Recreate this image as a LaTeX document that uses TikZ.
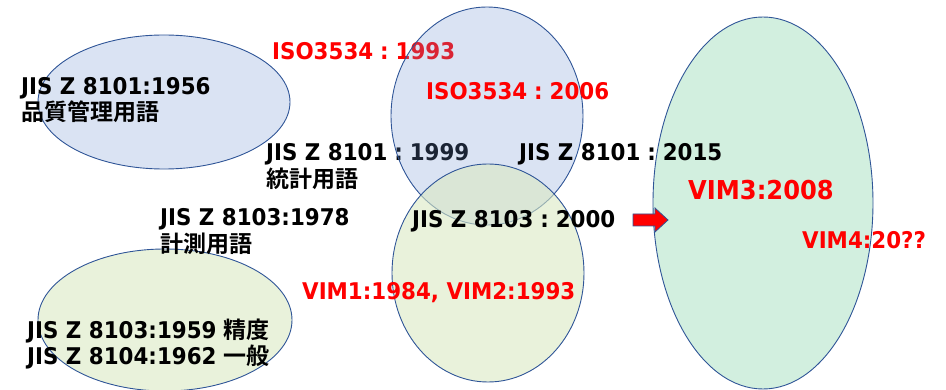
\documentclass[tikz,border=0pt]{standalone}
\usepackage{fontspec}
\setmainfont[FakeStretch=0.93]{DejaVu Sans Bold}
\newfontfamily\cjk{Noto Sans CJK JP}[UprightFont=* Bold]
% wide colon used between standard number and year
\newcommand\fwc{\hspace{0.3em}:\hspace{0.3em}}
\definecolor{edgeblue}{HTML}{2F5597}
\definecolor{fillblue}{HTML}{6C90D0}
\definecolor{fillpale}{HTML}{E9F2DB}
\definecolor{filllime}{HTML}{DAE9C3}
\definecolor{fillmint}{HTML}{D2EFDF}
\definecolor{txtred}{HTML}{FF0000}
\tikzset{
  x=1pt, y=-1pt,
  blob/.style={draw=edgeblue, line width=0.9pt},
  veil/.style={blob, fill=fillblue, fill opacity=0.25, draw opacity=1},
  lbl/.style={anchor=base west, inner sep=0pt, font=\fontsize{23}{27}\selectfont},
  redlbl/.style={lbl, text=txtred},
}
\begin{document}
\begin{tikzpicture}
\useasboundingbox (0,0) rectangle (946,390);

% quality-control vocabulary (1956)
\path[veil] (164,102) ellipse [x radius=126, y radius=67];
% precision / general terms
\path[blob, fill=fillpale] (165,320) ellipse [x radius=127, y radius=71];

% labels that sit underneath the ISO 3534 ellipse
\node[redlbl] (iso93) at (272,60) {ISO3534\fwc 1993};
\node[lbl] (jis99) at (266,161) {JIS Z 8101\fwc 1999};

% ISO 3534 / statistics vocabulary
\path[veil] (487,116) ellipse [x radius=96, y radius=109];
% metrology vocabulary / VIM
\path[blob, fill=filllime, fill opacity=0.6, draw opacity=1] (488,273) ellipse [x radius=96, y radius=109];
% VIM3
\path[blob, fill=fillmint] (763,203) ellipse [x radius=110, y radius=186];

% block arrow into VIM3
\draw[edgeblue, line width=0.8pt, fill=txtred]
  (633,214) -- (655,214) -- (655,208) -- (668,220) -- (655,232) -- (655,226) -- (633,226) -- cycle;

\node[lbl] (jis56) at (21,95) {JIS Z 8101:1956};
\node[lbl] (jis56j) at (21,121) {\cjk 品質管理用語};
\node[redlbl] (iso06) at (426,100) {ISO3534\fwc 2006};
\node[lbl] (jis99j) at (266,188) {\cjk 統計用語};
\node[lbl] (jis15) at (519,161) {JIS Z 8101\fwc 2015};
\node[redlbl, font=\fontsize{26}{30}\selectfont] (vim3) at (688,200) {VIM3:2008};
\node[redlbl] (vim4) at (802,249) {VIM4:20??};
\node[lbl] (jis78) at (160,226) {JIS Z 8103:1978};
\node[lbl] (jis78j) at (160,253) {\cjk 計測用語};
\node[lbl] (jis00) at (412,228) {JIS Z 8103\fwc 2000};
\node[redlbl] (vim12) at (302,300) {VIM1:1984, VIM2:1993};
\node[lbl] (jis59) at (27,338) {JIS Z 8103:1959 {\cjk 精度}};
\node[lbl] (jis62) at (27,365) {JIS Z 8104:1962 {\cjk 一般}};
\end{tikzpicture}
\end{document}
